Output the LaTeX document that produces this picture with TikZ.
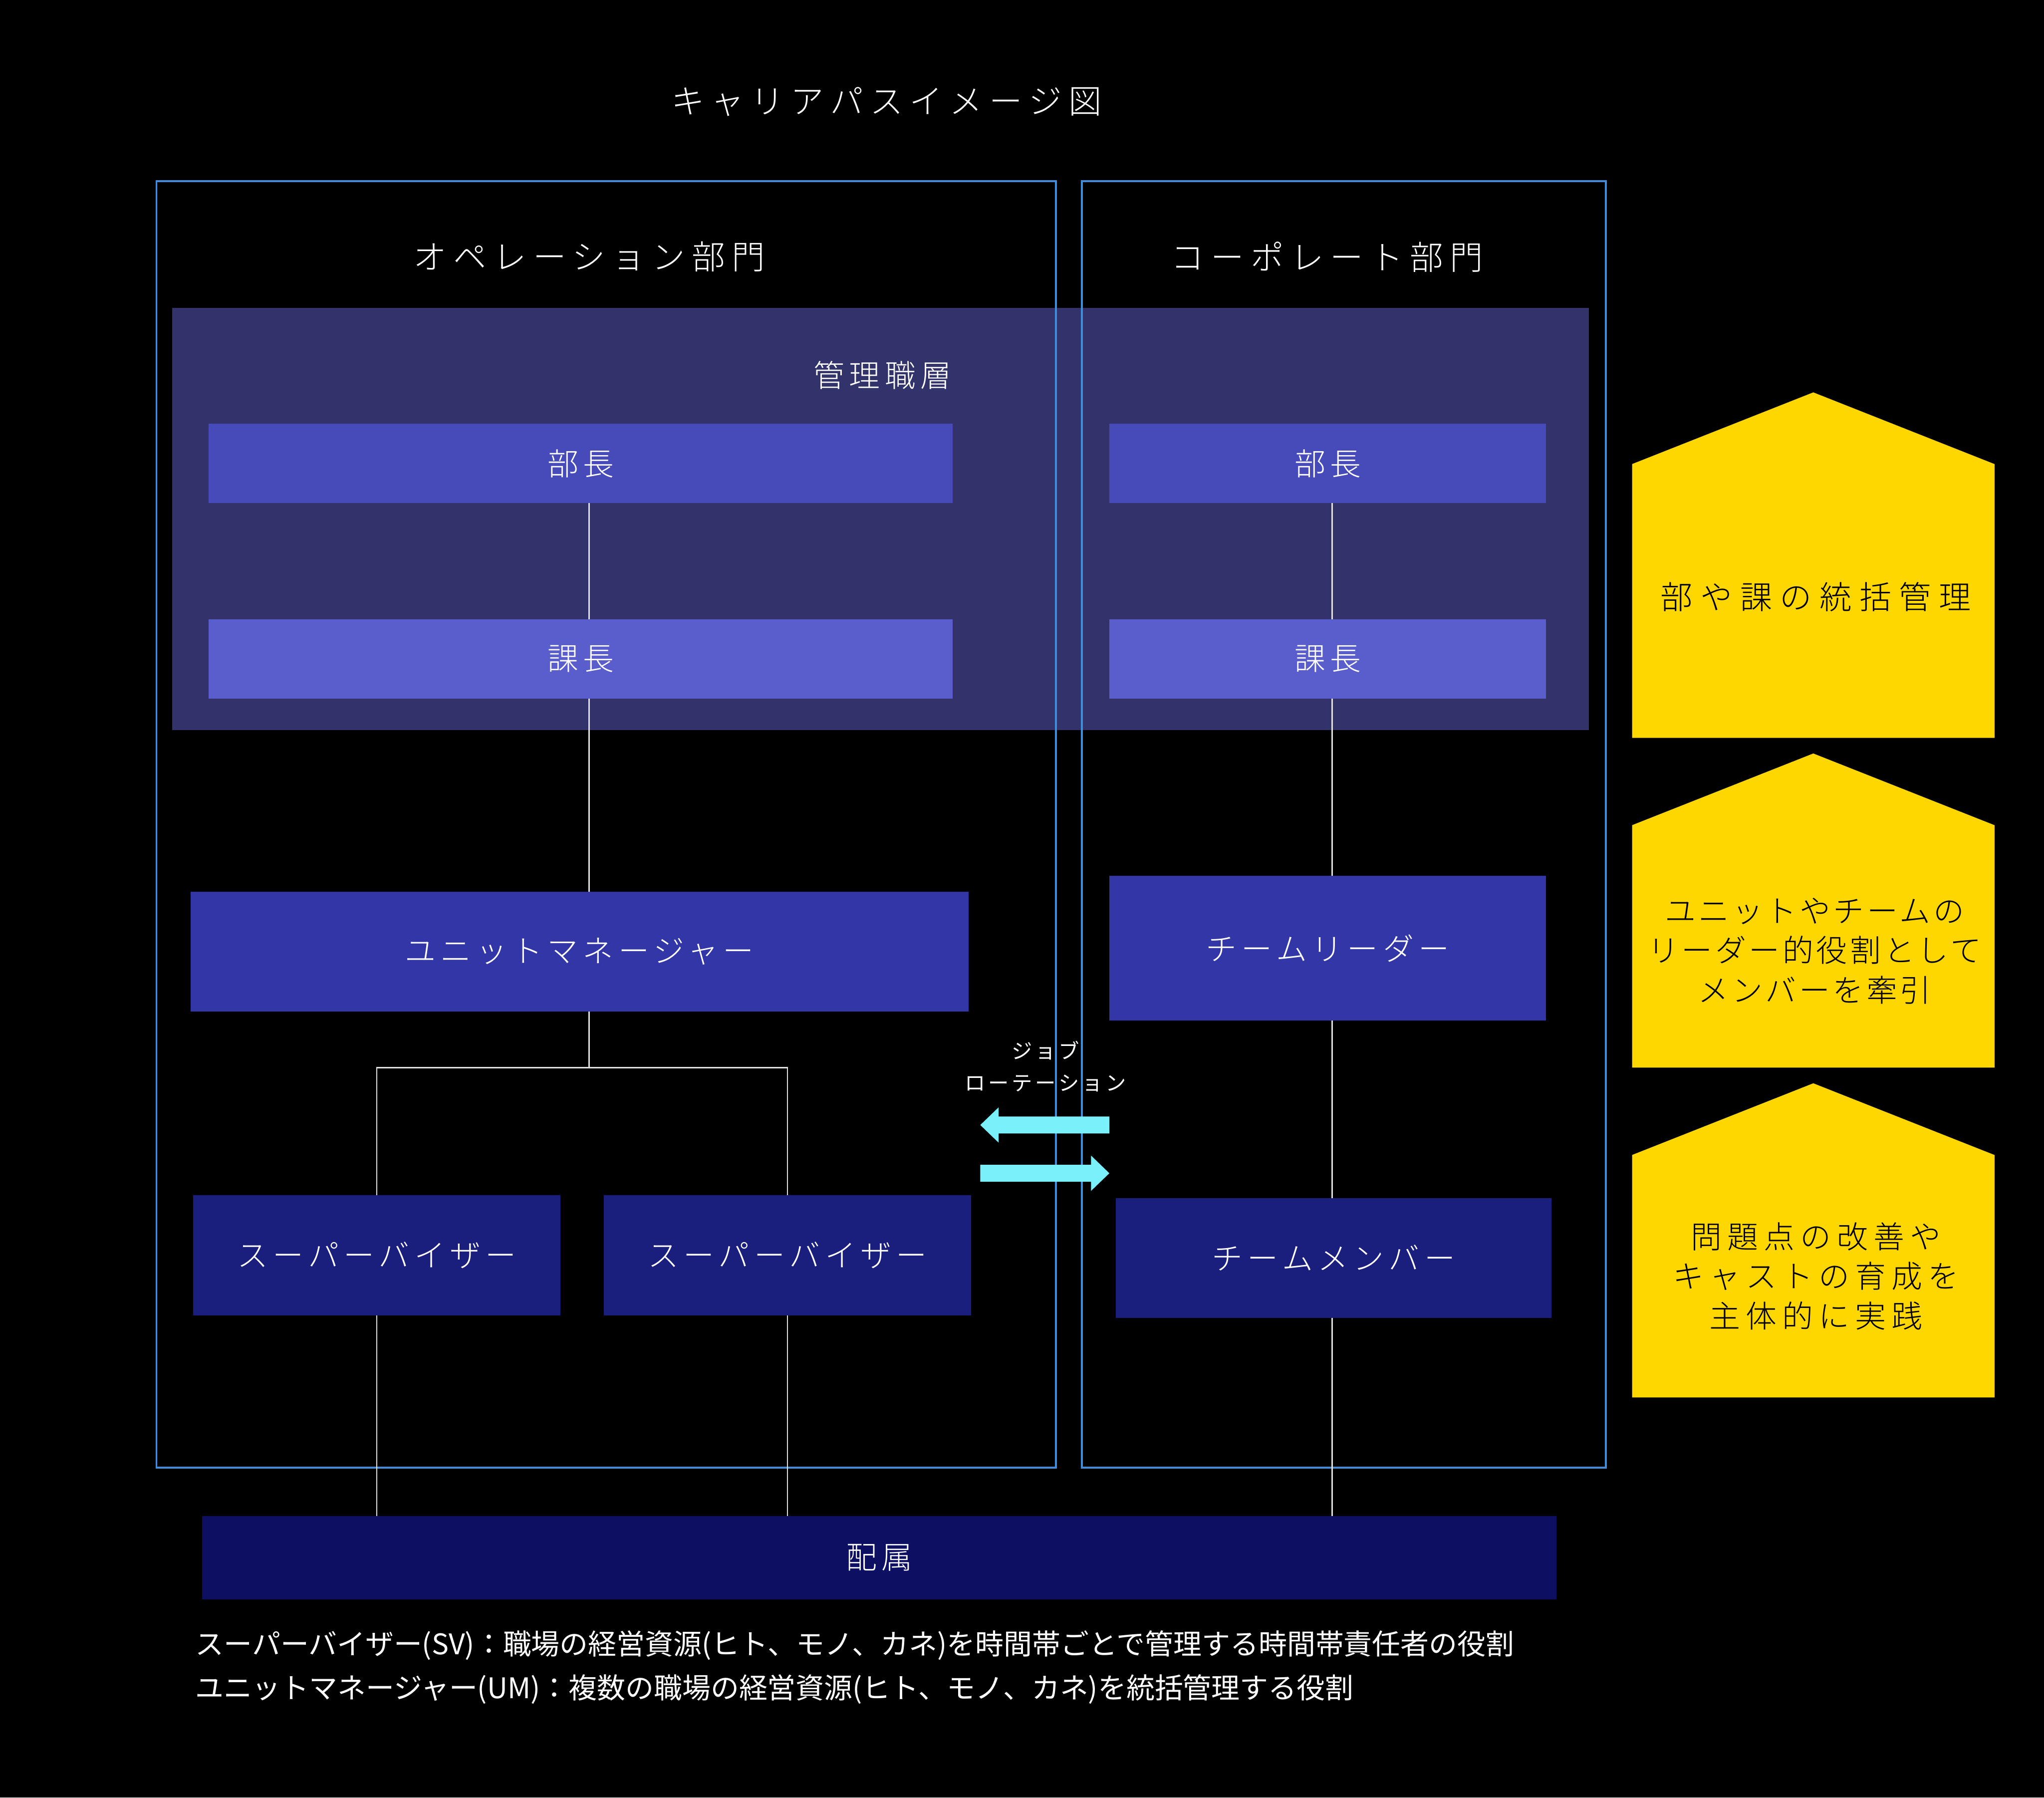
\documentclass[tikz,border=0pt]{standalone}
\usepackage{fontspec}
\setmainfont{Noto Sans CJK JP}[UprightFont=* Light]
\newfontfamily\notefont{Noto Sans CJK JP}
\definecolor{mgmt}{RGB}{51,51,107}
\definecolor{buchoc}{RGB}{71,75,185}
\definecolor{kachoc}{RGB}{90,94,204}
\definecolor{umc}{RGB}{51,54,166}
\definecolor{svc}{RGB}{26,30,125}
\definecolor{haizokuc}{RGB}{13,16,98}
\definecolor{outlinec}{RGB}{66,140,220}
\definecolor{rotc}{RGB}{122,240,250}
\definecolor{goldc}{RGB}{255,215,0}
\definecolor{connc}{RGB}{225,225,225}
\tikzset{
  every node/.style={inner sep=0pt, outer sep=0pt},
  titletext/.style={text=white, font=\fontsize{14.5}{17}\selectfont\addfontfeature{LetterSpace=20}},
  boxtext/.style={text=white, font=\fontsize{13.5}{15}\selectfont\addfontfeature{LetterSpace=15}},
  orgbox/.style={boxtext, draw=none, rectangle},
  dept/.style={draw=outlinec, line width=0.85pt},
  conn/.style={draw=connc, line width=0.55pt},
  rotarrow/.style={fill=rotc},
  house/.style={fill=goldc},
  housetext/.style={text=black, align=center},
  note/.style={text=white, anchor=west, font=\notefont\fontsize{12.4}{14}\selectfont},
}
\begin{document}
\begin{tikzpicture}[x=0.02cm,y=-0.02cm]
\fill[black] (0,0) rectangle (1568,1379);
\useasboundingbox (0,0) rectangle (1568,1379);

% title
\node[titletext] (title) at (680,78) {キャリアパスイメージ図};

% management layer
\node[fill=mgmt, minimum width=21.74cm, minimum height=6.48cm] (mgmt) at (675.5,398) {};
\node[boxtext] (mgmtlabel) at (677,288) {管理職層};

% department outlines
\draw[dept] (120,139) rectangle (810,1126);
\draw[dept] (830,139) rectangle (1232,1126);
\node[titletext] (opdept) at (452,197) {オペレーション部門};
\node[titletext] (corpdept) at (1018,197) {コーポレート部門};

% boxes left
\node[orgbox, fill=buchoc, minimum width=11.42cm, minimum height=1.22cm] (bL) at (445.5,355.5) {部長};
\node[orgbox, fill=kachoc, minimum width=11.42cm, minimum height=1.22cm] (kL) at (445.5,505.5) {課長};
\node[orgbox, fill=umc, minimum width=11.94cm, minimum height=1.84cm] (um) at (444.5,730) {ユニットマネージャー};
\node[orgbox, fill=svc, minimum width=5.64cm, minimum height=1.84cm] (sv1) at (289,963) {スーパーバイザー};
\node[orgbox, fill=svc, minimum width=5.64cm, minimum height=1.84cm] (sv2) at (604,963) {スーパーバイザー};

% boxes right
\node[orgbox, fill=buchoc, minimum width=6.7cm, minimum height=1.22cm] (bR) at (1018.5,355.5) {部長};
\node[orgbox, fill=kachoc, minimum width=6.7cm, minimum height=1.22cm] (kR) at (1018.5,505.5) {課長};
\node[orgbox, fill=umc, minimum width=6.7cm, minimum height=2.22cm] (tl) at (1018.5,727.5) {チームリーダー};
\node[orgbox, fill=svc, minimum width=6.68cm, minimum height=1.84cm] (tm) at (1023,965) {チームメンバー};

% bottom
\node[orgbox, fill=haizokuc, minimum width=20.78cm, minimum height=1.28cm] (hz) at (674.5,1195) {配属};

% connectors
\coordinate (lx) at (452,0);
\coordinate (rx) at (1022,0);
\coordinate (br) at (452,819);
\draw[conn] (bL.south -| lx) -- (kL.north -| lx);
\draw[conn] (kL.south -| lx) -- (um.north -| lx);
\draw[conn] (um.south -| lx) -- (br);
\draw[conn] (sv1.north) |- (br) -| (sv2.north);
\draw[conn] (sv1.south) -- (sv1.south |- hz.north);
\draw[conn] (sv2.south) -- (sv2.south |- hz.north);
\draw[conn] (bR.south -| rx) -- (kR.north -| rx);
\draw[conn] (kR.south -| rx) -- (tl.north -| rx);
\draw[conn] (tl.south -| rx) -- (tm.north -| rx);
\draw[conn] (tm.south -| rx) -- (hz.north -| rx);

% job rotation
\node[text=white, align=center, font=\notefont\fontsize{9}{14}\selectfont\addfontfeature{LetterSpace=14}] (jobrot) at (802,818) {ジョブ\\ローテーション};
\fill[rotarrow] (851,856.5) -- (766,856.5) -- (766,849.5) -- (752,863) -- (766,876.5) -- (766,869.5) -- (851,869.5) -- cycle;
\fill[rotarrow] (752,893.5) -- (837,893.5) -- (837,886.5) -- (851,900) -- (837,913.5) -- (837,906.5) -- (752,906.5) -- cycle;

% yellow houses
\fill[house] (1252,566) -- (1252,356) -- (1391,301) -- (1530,356) -- (1530,566) -- cycle;
\fill[house] (1252,819) -- (1252,633) -- (1391,578) -- (1530,633) -- (1530,819) -- cycle;
\fill[house] (1252,1072) -- (1252,886) -- (1391,831) -- (1530,886) -- (1530,1072) -- cycle;
\node[housetext, font=\fontsize{14}{17.3}\selectfont\addfontfeature{LetterSpace=24}] (h1) at (1393,458) {部や課の統括管理};
\node[housetext, font=\fontsize{13.5}{17.3}\selectfont\addfontfeature{LetterSpace=9}] (h2) at (1392,729.5) {ユニットやチームの\\リーダー的役割として\\メンバーを牽引};
\node[housetext, font=\fontsize{13.5}{17.3}\selectfont\addfontfeature{LetterSpace=18}] (h3) at (1393,979) {問題点の改善や\\キャストの育成を\\主体的に実践};

% notes
\node[note] (note1) at (150,1262) {スーパーバイザー(SV)：職場の経営資源(ヒト、モノ、カネ)を時間帯ごとで管理する時間帯責任者の役割};
\node[note] (note2) at (150,1296) {ユニットマネージャー(UM)：複数の職場の経営資源(ヒト、モノ、カネ)を統括管理する役割};
\end{tikzpicture}
\end{document}
